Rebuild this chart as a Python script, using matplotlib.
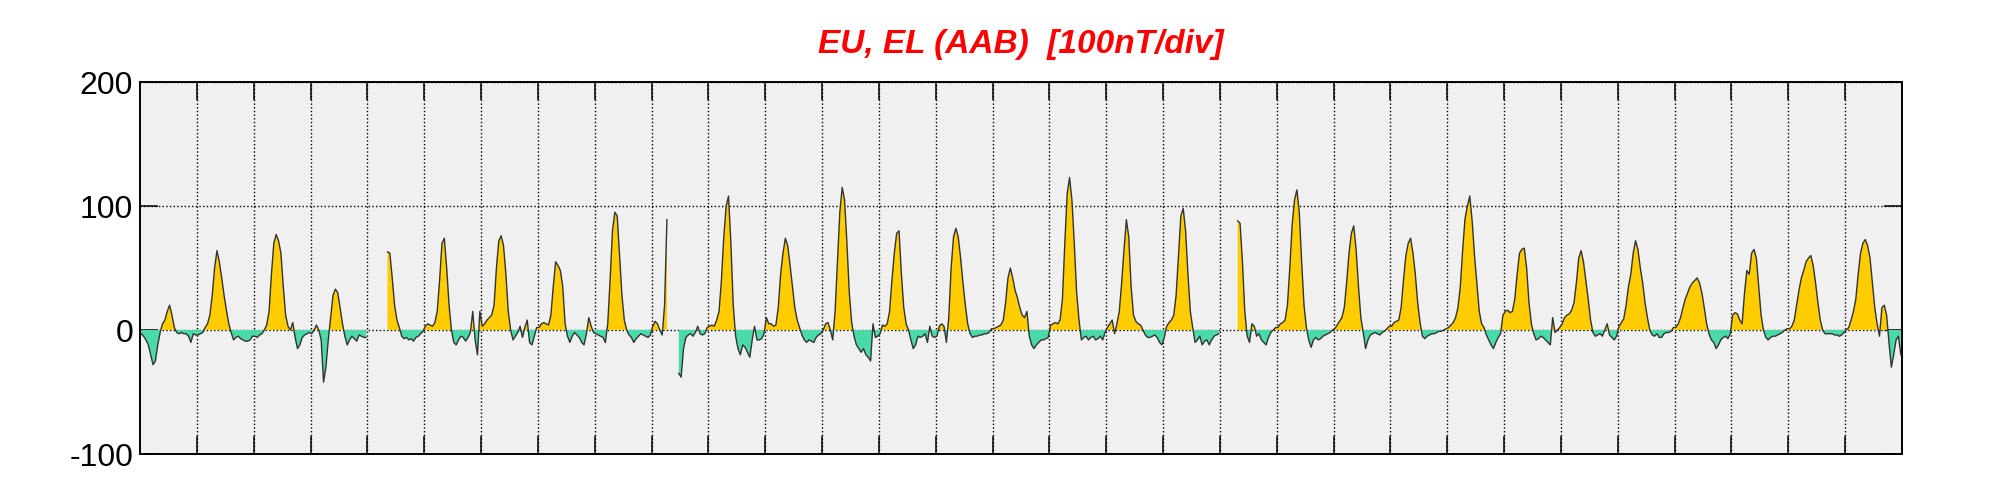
import matplotlib; matplotlib.use("Agg")
import matplotlib.pyplot as plt
import numpy as np

YEL = "#FFCC00"; GRN = "#4AD9A8"; LINE = "#333333"; BG = "#F0F0F0"
nan = np.nan

# hourly values (nT), one row per day
week1 = [
    -3, -5, -8, -12, -20, -28, -25, -12, -2, 5, 8, 15, 20, 12, 2, -2, -3, -2, -3, -3, -5, -10, -3, -4,
    -4, -3, -2, 2, 5, 12, 28, 50, 64, 55, 42, 28, 16, 5, -2, -8, -6, -5, -7, -8, -9, -9, -8, -5,
    -5, -6, -4, -3, 0, 4, 15, 45, 70, 77, 72, 62, 35, 12, 3, 0, 6, -6, -15, -12, -6, -4, -3, -2,
    -3, 0, 4, 0, -8, -42, -30, -8, 10, 28, 33, 30, 18, 5, -5, -12, -8, -5, -7, -9, -4, -5, -6, -6,
    nan, nan, nan, nan, nan, nan, nan, nan, 63, 62, 42, 20, 8, 2, -5, -7, -6, -8, -7, -9, -6, -5, -3, -1,
    3, 5, 4, 3, 6, 15, 40, 70, 74, 50, 20, 0, -10, -12, -8, -5, -6, -9, -6, -2, 15, -8, -20, 15,
    3, 5, 8, 10, 12, 20, 50, 72, 76, 68, 45, 15, 0, -8, -5, -2, 3, -6, 2, 8, -10, -12, -5, 2,
]
week2 = [
    2, 5, 6, 5, 4, 12, 35, 55, 52, 48, 35, 5, -5, -10, -5, -2, -4, -6, -10, -12, -3, 10, 3, -2,
    -3, -4, -5, -6, -10, 5, 40, 80, 95, 92, 60, 28, 8, 0, -4, -6, -10, -7, -5, -3, -4, -5, -6, -4,
    3, 7, 5, 0, -4, 20, 89, nan, nan, nan, nan, -35, -38, -15, -6, -4, -3, -5, -2, 3, -3, -4, -3, 2,
    3, 4, 3, 8, 15, 40, 75, 100, 108, 70, 20, -5, -15, -20, -12, -14, -18, -22, -8, 3, -8, -8, -7, -3,
    10, 5, 5, 3, 4, 18, 45, 62, 74, 68, 52, 35, 18, 8, 2, -4, -8, -10, -8, -9, -10, -6, -4, -3,
    0, 5, 6, 0, -8, 15, 55, 95, 115, 105, 70, 30, 6, -5, -12, -15, -18, -15, -20, -22, -25, 5, -6, -5,
    -3, 4, 3, 5, 15, 40, 62, 78, 80, 45, 18, 5, 0, -8, -15, -12, -5, -6, -5, -3, -10, 3, -5, -6,
]
week3 = [
    -5, 3, 5, 3, -10, 10, 50, 75, 82, 75, 58, 38, 20, 5, -3, -6, -5, -5, -4, -4, -3, -3, -2, 1,
    1, 2, 3, 4, 8, 22, 42, 50, 42, 32, 26, 18, 12, 10, 15, -5, -12, -15, -12, -10, -8, -8, -7, -6,
    4, 5, 6, 5, 8, 25, 70, 110, 123, 105, 70, 30, 8, -8, -6, -5, -8, -6, -5, -8, -7, -5, -8, -2,
    2, 5, 8, -3, 5, 15, 38, 65, 89, 75, 35, 12, 7, 5, 4, 0, -4, -6, -6, -5, -4, -6, -10, -12,
    -6, 3, 6, 8, 12, 28, 60, 92, 98, 80, 45, 15, 2, -10, -8, -5, -12, -9, -8, -12, -8, -5, -4, -3,
    nan, nan, nan, nan, nan, nan, nan, 88, 86, 55, 15, -5, -10, 5, 3, -5, -3, -8, -10, -12, -6, -2, 0, 2,
    2, 5, 6, 8, 20, 50, 85, 105, 113, 95, 55, 20, 2, -8, -14, -8, -6, -8, -7, -5, -4, -3, -2, 0,
]
week4 = [
    1, 4, 7, 10, 18, 38, 62, 78, 84, 65, 35, 10, -2, -15, -8, -4, -3, -2, -3, -4, -2, -1, 1, 3,
    3, 6, 7, 8, 18, 40, 60, 70, 74, 62, 45, 22, 6, -5, -7, -5, -4, -3, -3, -2, -1, -1, 0, 1,
    2, 4, 6, 10, 18, 35, 65, 90, 100, 108, 88, 60, 38, 15, 5, 2, -4, -8, -12, -15, -10, -6, -3, 12,
    15, 16, 14, 15, 25, 45, 62, 65, 66, 50, 22, 5, -3, -8, -7, -5, -6, -8, -10, -12, 10, -2, 0, 2,
    5, 10, 12, 13, 16, 22, 38, 58, 64, 55, 40, 25, 8, -2, -5, -4, -3, -5, 0, 5, -4, -6, -8, -5,
    3, 6, 9, 20, 35, 45, 62, 72, 65, 50, 38, 22, 10, 0, -4, -5, -3, -6, -6, -3, -2, -2, -1, 2,
    2, 5, 10, 18, 25, 30, 35, 38, 40, 42, 38, 30, 18, 5, -3, -8, -10, -15, -12, -8, -6, -5, -7, -3,
]
week5 = [
    12, 14, 13, 8, 5, 30, 48, 45, 62, 65, 58, 35, 12, 0, -6, -8, -6, -5, -5, -4, -3, -2, 0, 1,
    1, 3, 8, 20, 32, 42, 48, 55, 58, 60, 52, 38, 22, 8, 0, -3, -3, -3, -3, -4, -4, -5, -4, -2,
    0, 2, 8, 15, 25, 45, 62, 70, 73, 68, 58, 38, 18, 5, -5, 18, 20, 12, -10, -30, -20, -8, -5, -20,
]
n_days = 31
yticks = [-100, 0, 100, 200]
title = "EU, EL (AAB)  [100nT/div]"

vals = np.array(week1 + week2 + week3 + week4 + week5, dtype=float)
t = (np.arange(len(vals)) + 0.5) / 24.0

fig = plt.figure(figsize=(20.01, 5), dpi=100)
ax = fig.add_axes([140/2001, 46/500, 1762/2001, 372/500])
ax.set_facecolor(BG)
ax.set_axisbelow(True)

ax.fill_between(t, 0, vals, where=vals >= 0, interpolate=True, color=YEL, lw=0, zorder=2)
ax.fill_between(t, 0, vals, where=vals <= 0, interpolate=True, color=GRN, lw=0, zorder=2)
ax.plot(t, vals, color=LINE, lw=1.0, zorder=3)

ax.set_xlim(0, n_days); ax.set_ylim(-100, 200)
ax.set_xticks(range(1, n_days)); ax.set_xticklabels([])
ax.set_yticks(yticks); ax.set_yticklabels([str(v) for v in yticks])
ax.tick_params(axis="both", direction="in", length=13, width=1.1, top=True, right=True,
               labelsize=23, pad=5)
for lab in ax.get_yticklabels():
    lab.set_family("Liberation Sans")
ax.grid(True, linestyle=":", color="black", lw=1.0)
for s in ax.spines.values():
    s.set_linewidth(1.4)

fig.text(1021/2001, 1 - 45/500, title, color="#FF0000", fontsize=24, fontweight="bold",
         fontstyle="italic", family="Liberation Sans", ha="center", va="center")

fig.savefig("out.png", dpi=100)
